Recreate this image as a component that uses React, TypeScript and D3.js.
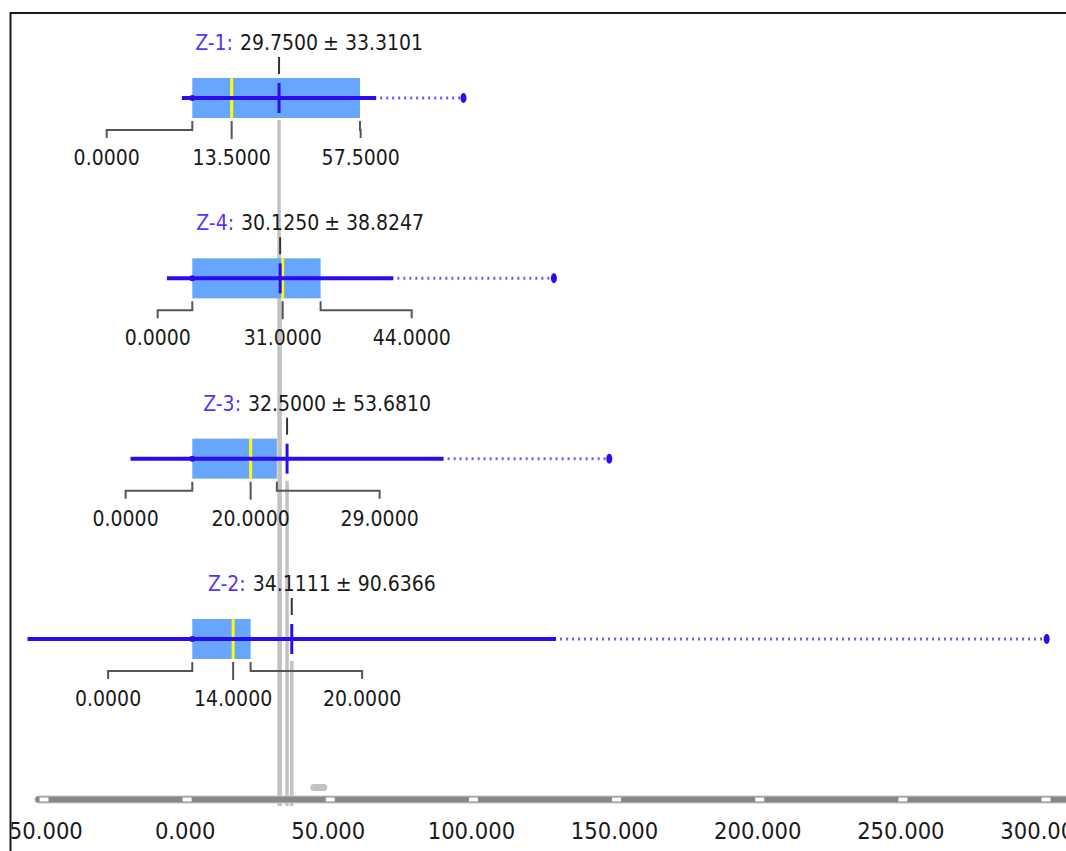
import React, { useEffect, useRef } from 'react';
import * as d3 from 'd3';

// box plot summary per group (top to bottom)
const groups = ['Z-1', 'Z-4', 'Z-3', 'Z-2'];
const means = [29.75, 30.125, 32.5, 34.1111];
const stds = [33.3101, 38.8247, 53.681, 90.6366];
const mins = [0, 0, 0, 0];
const q1s = [0, 0, 0, 0];
const medians = [13.5, 31, 20, 14];
const q3s = [57.5, 44, 29, 20];
const maxs = [93, 124, 143, 293];

// slider axis ticks
const axisTicks = [-50, 0, 50, 100, 150, 200, 250, 300];
const handleValue = 46;

const FONT = "'DejaVu Sans Condensed', 'DejaVu Sans', sans-serif";
const BLUE = '#2a0cf0';
const fmt3 = (v: number) => d3.format('.3f')(v).replace('\u2212', '-');
const fmt4 = (v: number) => d3.format('.4f')(v).replace('\u2212', '-');

const App = () => {
  const ref = useRef<SVGSVGElement | null>(null);

  useEffect(() => {
    const svg = d3.select(ref.current);
    svg.selectAll('*').remove();

    const x = d3.scaleLinear().domain([0, 50]).range([192.3, 338.1]);
    const xAxis = d3.scaleLinear().domain([-50, 300]).range([44, 1046]);
    const y = d3.scalePoint().domain(groups).range([98, 639]);
    const half = 20;
    const axisY = 796;

    svg.append('defs').append('clipPath').attr('id', 'plot-clip')
      .append('rect').attr('x', 11.5).attr('y', 14).attr('width', 1100).attr('height', 900);

    svg.append('rect')
      .attr('x', 10.5).attr('y', 13).attr('width', 1100).attr('height', 900)
      .attr('fill', 'white').attr('stroke', '#1a1a1a').attr('stroke-width', 2);

    const g = svg.append('g').attr('clip-path', 'url(#plot-clip)');

    const rows = groups.map((name, i) => ({
      name, mean: means[i], std: stds[i], min: mins[i], q1: q1s[i],
      median: medians[i], q3: q3s[i], max: maxs[i], cy: y(name) as number,
    }));

    // grey mean lines running down to the slider
    g.selectAll('.mean-line').data(rows).enter().append('line')
      .attr('x1', d => x(d.mean)).attr('x2', d => x(d.mean))
      .attr('y1', d => d.cy + half + 2).attr('y2', axisY + 10)
      .attr('stroke', '#c2c2c2').attr('stroke-width', 3.5);

    // slider bar
    g.append('rect')
      .attr('x', 35).attr('y', axisY).attr('width', 1100).attr('height', 7).attr('rx', 3)
      .attr('fill', '#878787').attr('stroke', '#c9c9c9').attr('stroke-width', 1);
    g.selectAll('.tick-mark').data(axisTicks).enter().append('rect')
      .attr('x', d => xAxis(d) - 4.5).attr('y', axisY + 1.5).attr('width', 9).attr('height', 4)
      .attr('fill', 'white');
    g.append('rect')
      .attr('x', xAxis(handleValue) - 8.5).attr('y', 784).attr('width', 17).attr('height', 7).attr('rx', 3.5)
      .attr('fill', '#c2c2c2');
    g.selectAll('.tick-label').data(axisTicks).enter().append('text')
      .attr('x', d => xAxis(d) - 2).attr('y', 839)
      .attr('text-anchor', 'middle')
      .style('font-family', FONT).style('font-size', '23.5px').attr('fill', '#1a1a1a')
      .text(d => fmt3(d));

    rows.forEach(d => {
      const row = g.append('g');
      const top = d.cy - half;
      const bottom = d.cy + half;

      // box from Q1 to Q3
      row.append('rect')
        .attr('x', x(d.q1)).attr('y', top)
        .attr('width', x(d.q3) - x(d.q1)).attr('height', half * 2)
        .attr('fill', '#66a6ff');

      // median
      row.append('line')
        .attr('x1', x(d.median)).attr('x2', x(d.median))
        .attr('y1', top).attr('y2', bottom)
        .attr('stroke', '#ffff00').attr('stroke-width', 3);

      // dotted tail from mean + std to max
      row.append('line')
        .attr('x1', x(d.mean + d.std) + 4).attr('x2', x(d.max))
        .attr('y1', d.cy).attr('y2', d.cy)
        .attr('stroke', '#6f5cf7').attr('stroke-width', 3).attr('stroke-dasharray', '2,4');

      // mean +- std line
      row.append('line')
        .attr('x1', x(d.mean - d.std)).attr('x2', x(d.mean + d.std))
        .attr('y1', d.cy).attr('y2', d.cy)
        .attr('stroke', BLUE).attr('stroke-width', 4);

      row.append('circle').attr('cx', x(d.min)).attr('cy', d.cy).attr('r', 3).attr('fill', BLUE);
      row.append('ellipse').attr('cx', x(d.max)).attr('cy', d.cy).attr('rx', 3).attr('ry', 5).attr('fill', BLUE);

      // mean marker
      row.append('line')
        .attr('x1', x(d.mean)).attr('x2', x(d.mean))
        .attr('y1', top + 5).attr('y2', bottom - 5)
        .attr('stroke', BLUE).attr('stroke-width', 3);
      row.append('line')
        .attr('x1', x(d.mean)).attr('x2', x(d.mean))
        .attr('y1', top - 21).attr('y2', top - 4)
        .attr('stroke', '#333').attr('stroke-width', 2);

      // title: mean value centred on the mean
      const titleY = d.cy - 48;
      const num = row.append('text')
        .attr('x', x(d.mean)).attr('y', titleY).attr('text-anchor', 'middle')
        .style('font-family', FONT).style('font-size', '21px').attr('fill', '#1a1a1a')
        .text(fmt4(d.mean));
      const w = (num.node() as SVGTextElement).getComputedTextLength();
      row.append('text')
        .attr('x', x(d.mean) - w / 2 - 7).attr('y', titleY).attr('text-anchor', 'end')
        .style('font-family', FONT).style('font-size', '21px').attr('fill', '#5a32f5')
        .text(`${d.name}:`);
      row.append('text')
        .attr('x', x(d.mean) + w / 2 + 5).attr('y', titleY).attr('text-anchor', 'start')
        .style('font-family', FONT).style('font-size', '21px').attr('fill', '#1a1a1a')
        .text(`± ${fmt4(d.std)}`);

      // quartile labels with connectors
      const xm = x(d.median);
      const leftX = Math.min(x(d.q1), xm - 125);
      const rightX = Math.max(x(d.q3), xm + 129);
      const lineY = bottom + 12;
      const path = d3.path();
      path.moveTo(x(d.q1), bottom + 3); path.lineTo(x(d.q1), lineY);
      path.lineTo(leftX, lineY); path.lineTo(leftX, lineY + 8);
      path.moveTo(xm, bottom + 3); path.lineTo(xm, lineY + 9);
      path.moveTo(x(d.q3), bottom + 3); path.lineTo(x(d.q3), lineY);
      path.lineTo(rightX, lineY); path.lineTo(rightX, lineY + 8);
      row.append('path').attr('d', path.toString())
        .attr('fill', 'none').attr('stroke', '#555').attr('stroke-width', 2);

      row.selectAll('.q-label')
        .data([[leftX, d.q1], [xm, d.median], [rightX, d.q3]])
        .enter().append('text')
        .attr('x', p => p[0]).attr('y', d.cy + 67).attr('text-anchor', 'middle')
        .style('font-family', FONT).style('font-size', '21px').attr('fill', '#1a1a1a')
        .text(p => fmt4(p[1]));
    });
  }, []);

  return (
    <svg
      ref={ref}
      width={1066}
      height={851}
      style={{ position: 'absolute', left: 0, top: 0, display: 'block', background: 'white' }}
    />
  );
};

export default App;
